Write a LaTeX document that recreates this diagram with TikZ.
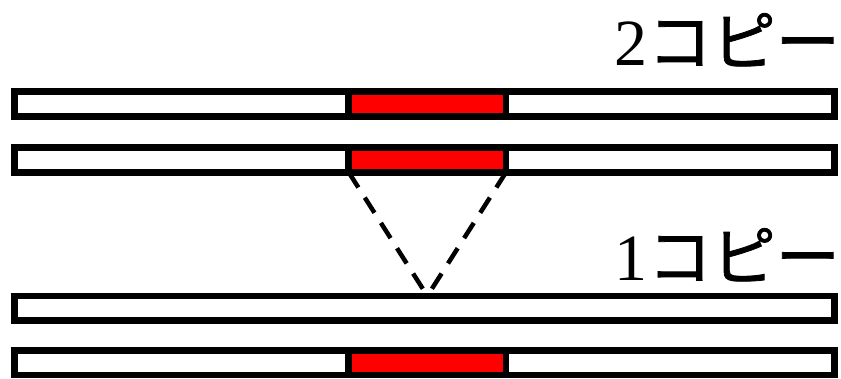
\documentclass[tikz,border=0pt]{standalone}
\usepackage{fontspec}
\setmainfont{Liberation Serif}
\newfontfamily\jpfont[FakeBold=1.2]{Noto Sans CJK JP}
\begin{document}
\begin{tikzpicture}[x=1pt,y=-1pt,
  bar/.style={draw=black,line width=6.5pt,fill=white,minimum width=820.2pt,minimum height=24.6pt,inner sep=0pt,outer sep=0pt},
  redseg/.style={draw=black,line width=6.5pt,fill=red,minimum width=157.3pt,minimum height=24.6pt,inner sep=0pt,outer sep=0pt},
  lbl/.style={anchor=base east,inner sep=0pt},
  dline/.style={line width=4.5pt,dash pattern=on 18pt off 12pt}]
\useasboundingbox (0,0) rectangle (841,378);
\node[bar] (b1) at (424.6,104) {};
\node[bar] (b2) at (424.6,160) {};
\node[bar] (b3) at (424.6,308.2) {};
\node[bar] (b4) at (424.6,362.8) {};
\node[redseg] (r1) at (427.35,104) {};
\node[redseg] (r2) at (427.35,160) {};
\node[redseg] (r4) at (427.35,362.8) {};
\coordinate (apex) at (r2.south |- b3.north);
\draw[dline] (r2.south west) -- (apex);
\draw[dline] (r2.south east) -- (apex);
\node[lbl] (t2) at (840,65) {\fontsize{66}{66}\selectfont 2{\jpfont\fontsize{64}{64}\selectfont コピー}};
\node[lbl] (t1) at (840,280) {\fontsize{66}{66}\selectfont 1{\jpfont\fontsize{64}{64}\selectfont コピー}};
\end{tikzpicture}
\end{document}
